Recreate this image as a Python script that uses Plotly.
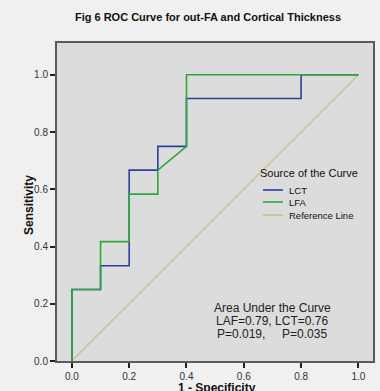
import plotly.graph_objects as go

# ROC data (1 - specificity, sensitivity)
lct_x = [0.0, 0.0, 0.1, 0.1, 0.2, 0.2, 0.3, 0.3, 0.4, 0.4, 0.8, 0.8, 1.0]
lct_y = [0.0, 0.25, 0.25, 0.333, 0.333, 0.667, 0.667, 0.75, 0.75, 0.917, 0.917, 1.0, 1.0]
lfa_x = [0.0, 0.0, 0.1, 0.1, 0.2, 0.2, 0.3, 0.3, 0.4, 0.4, 1.0]
lfa_y = [0.0, 0.25, 0.25, 0.417, 0.417, 0.583, 0.583, 0.667, 0.75, 1.0, 1.0]
ref_x = [0.0, 1.0]
ref_y = [0.0, 1.0]
tick_vals = [0.0, 0.2, 0.4, 0.6, 0.8, 1.0]
tick_text = ["0.0", "0.2", "0.4", "0.6", "0.8", "1.0"]
series_names = ["LCT", "LFA", "Reference Line"]
series_colors = ["#2c3f9e", "#2aa83a", "#c9c18b"]
auc_lines = ["Area Under the Curve", "LAF=0.79, LCT=0.76", "P=0.019,     P=0.035"]

FONT = "Liberation Sans, Arial, sans-serif"

fig = go.Figure()
fig.add_trace(go.Scatter(x=ref_x, y=ref_y, mode="lines", name=series_names[2],
                         line=dict(color=series_colors[2], width=1.3)))
fig.add_trace(go.Scatter(x=lct_x, y=lct_y, mode="lines", name=series_names[0],
                         line=dict(color=series_colors[0], width=1.6)))
fig.add_trace(go.Scatter(x=lfa_x, y=lfa_y, mode="lines", name=series_names[1],
                         line=dict(color=series_colors[1], width=1.6)))

axis_common = dict(
    showgrid=False, zeroline=False, showline=True, mirror=True,
    linecolor="#5a5a5a", linewidth=2, automargin=False,
    ticks="outside", ticklen=5, tickwidth=1.5, tickcolor="#222",
    tickvals=tick_vals, ticktext=tick_text,
    tickfont=dict(family=FONT, size=10, color="#333"),
)


def px_x(x):
    return (x - 57) / 316


def px_y(y):
    return (361 - y) / 318


annotations = [
    dict(x=px_x(217), y=px_y(388), xref="paper", yref="paper", showarrow=False,
         text="<b>1 - Specificity</b>", font=dict(family=FONT, size=12, color="#111"),
         xanchor="center", yanchor="middle"),
    dict(x=px_x(29), y=px_y(205), xref="paper", yref="paper", showarrow=False,
         text="<b>Sensitivity</b>", textangle=-90,
         font=dict(family=FONT, size=12, color="#111"),
         xanchor="center", yanchor="middle"),
    dict(x=px_x(258), y=px_y(173), xref="paper", yref="paper", showarrow=False,
         text="Source of the Curve", font=dict(family=FONT, size=11, color="#111"),
         xanchor="left", yanchor="middle"),
]
shapes = []
legend_y = [190, 202, 215]
for name, col, ly in zip(series_names, series_colors, legend_y):
    shapes.append(dict(type="line", xref="paper", yref="paper",
                       x0=px_x(263), x1=px_x(283), y0=px_y(ly), y1=px_y(ly),
                       line=dict(color=col, width=1.6)))
    annotations.append(dict(x=px_x(287), y=px_y(ly), xref="paper", yref="paper",
                            showarrow=False, text=name,
                            font=dict(family=FONT, size=9.5, color="#111"),
                            xanchor="left", yanchor="middle"))
for txt, ly in zip(auc_lines, [307.5, 320.5, 333.5]):
    annotations.append(dict(x=px_x(272), y=px_y(ly), xref="paper", yref="paper",
                            showarrow=False, text=txt, height=12, borderpad=0,
                            font=dict(family=FONT, size=12, color="#222"),
                            xanchor="center", yanchor="middle"))

fig.update_layout(
    width=380, height=391,
    margin=dict(l=57, r=7, t=43, b=30),
    paper_bgcolor="#f0f0f0", plot_bgcolor="#dcdcdc",
    font=dict(family=FONT),
    showlegend=False,
    title=dict(text="<b>Fig 6 ROC Curve for out-FA and Cortical Thickness</b>",
               x=208/380, xanchor="center", y=1-17/391, yanchor="middle",
               automargin=False,
               font=dict(family=FONT, size=11, color="#111")),
    xaxis=dict(range=[-0.052, 1.051], **axis_common),
    yaxis=dict(range=[0, 1.111], **axis_common),
    annotations=annotations,
    shapes=shapes,
)

fig.write_html(
    "out.html",
    config={"displayModeBar": False},
    post_script="document.body.style.margin='0';document.body.style.padding='0';"
                "document.body.style.overflow='hidden';"
                "document.body.style.background='#f0f0f0';",
)
